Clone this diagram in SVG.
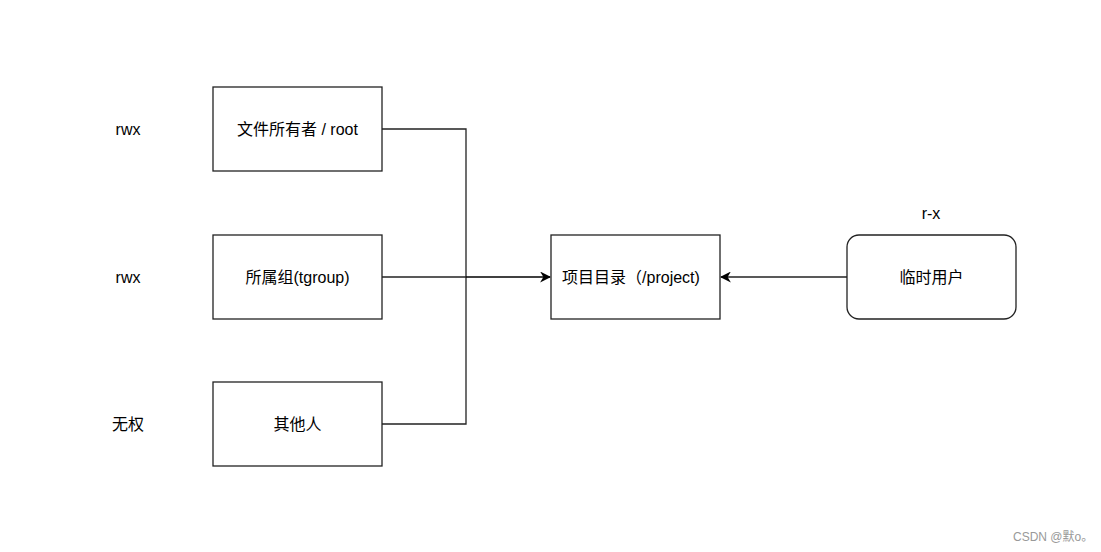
<svg xmlns="http://www.w3.org/2000/svg" width="1101" height="552" viewBox="0 0 1101 552">
<style>
.box{fill:#fff;stroke:#222;stroke-width:1.3}
.t{font-family:"Liberation Sans","Noto Sans CJK SC",sans-serif;font-size:16px;fill:#000;text-anchor:middle;dominant-baseline:central}
.c{fill:none;stroke:#222;stroke-width:1.3}
.wm{font-family:"Liberation Sans","Noto Sans CJK SC",sans-serif;font-size:12px;fill:#999}
</style>
<defs>
<marker id="arr" viewBox="0 0 10 10" refX="9" refY="5" markerWidth="11" markerHeight="11" markerUnits="userSpaceOnUse" orient="auto">
<path d="M0,0 L10,5 L0,10 L3,5 Z" fill="#000"/>
</marker>
</defs>
<rect width="1101" height="552" fill="#fff"/>
<g id="connectors">
<path class="c" d="M382,129 H466 V424 H382"/>
<path class="c" d="M382,277 H466"/>
<path class="c" d="M466,277 H550" marker-end="url(#arr)" style="stroke:#000;stroke-width:1.6"/>
<path class="c" d="M847,277 H721" marker-end="url(#arr)"/>
</g>
<g id="owner"><rect class="box" x="213" y="87" width="169" height="84"/><text class="t" x="297.5" y="129">文件所有者 / root</text></g>
<g id="group"><rect class="box" x="213" y="235" width="169" height="84"/><text class="t" x="297.5" y="277">所属组(tgroup)</text></g>
<g id="others"><rect class="box" x="213" y="382" width="169" height="84"/><text class="t" x="297.5" y="424">其他人</text></g>
<g id="project"><rect class="box" x="551" y="235" width="169" height="84"/><text class="t" x="631" y="277">项目目录（/project)</text></g>
<g id="temp"><rect class="box" x="847" y="235" width="169" height="84" rx="12" ry="12"/><text class="t" x="931.5" y="277">临时用户</text></g>
<g id="labels">
<text class="t" x="128" y="129">rwx</text>
<text class="t" x="128" y="277">rwx</text>
<text class="t" x="128" y="424">无权</text>
<text class="t" x="931" y="213">r-x</text>
</g>
<text class="wm" x="1013" y="541">CSDN @默o。</text>
</svg>
